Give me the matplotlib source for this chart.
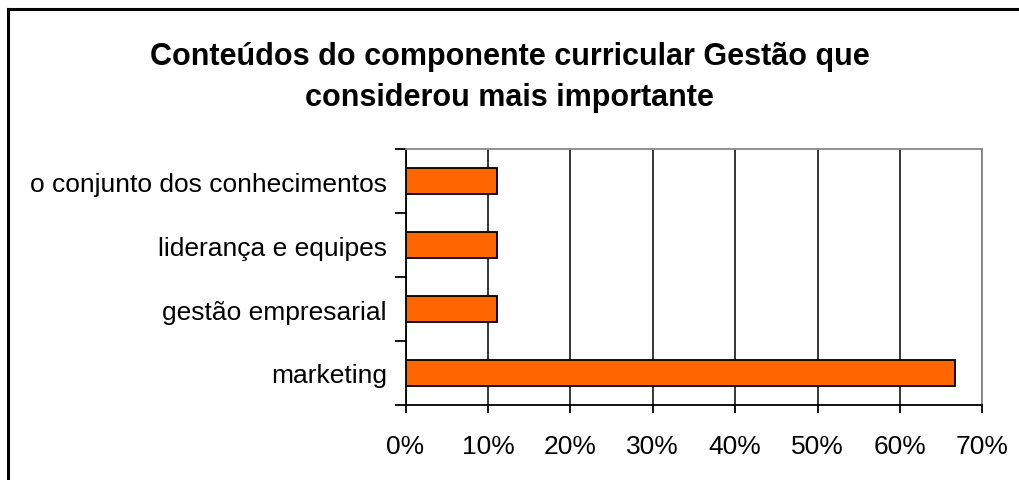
import matplotlib.pyplot as plt
import matplotlib
from matplotlib.lines import Line2D
from matplotlib.ticker import FixedLocator, PercentFormatter

matplotlib.rcParams['font.family'] = ['Liberation Sans', 'DejaVu Sans']

# dados
categorias = ['marketing', 'gestão empresarial', 'liderança e equipes',
              'o conjunto dos conhecimentos']
percentuais = [66.7, 11.1, 11.1, 11.1]
ticks_x = [0, 10, 20, 30, 40, 50, 60, 70]

fig = plt.figure(figsize=(10.19, 4.81), dpi=100)
ax = fig.add_axes([0.398, 0.156, 0.566, 0.532])

# barras horizontais
ax.barh(range(len(categorias)), percentuais, height=0.4, color='#FF6600',
        edgecolor='black', linewidth=1.3, zorder=3)

ax.set_xlim(0, 70)
ax.set_ylim(-0.5, len(categorias) - 0.5)
ax.set_xticks(ticks_x)
ax.xaxis.set_major_formatter(PercentFormatter(decimals=0))
ax.set_yticks(range(len(categorias)))
ax.set_yticklabels(categorias)
ax.yaxis.set_minor_locator(FixedLocator([i - 0.5 for i in range(len(categorias) + 1)]))

ax.tick_params(axis='y', which='major', length=0, pad=13.5, labelsize=19)
ax.tick_params(axis='y', which='minor', length=8, width=1.3, direction='out')
ax.tick_params(axis='x', length=6, width=1.3, direction='out', pad=15, labelsize=19)

# linhas de grade verticais
ax.grid(axis='x', color='black', linewidth=1.1, zorder=0)
ax.set_axisbelow(True)

for lado in ['left', 'bottom']:
    ax.spines[lado].set_linewidth(1.3)
for lado in ['top', 'right']:
    ax.spines[lado].set_color('#888888')
    ax.spines[lado].set_linewidth(1.3)

fig.text(0.5, 0.838, 'Conteúdos do componente curricular Gestão que\nconsiderou mais importante',
         ha='center', va='center', fontsize=22, fontweight='bold', linespacing=1.48)

# moldura do gráfico
fig.add_artist(Line2D([8 / 1019, 8 / 1019], [0, 1 - 10 / 481], color='black', linewidth=2.2))
fig.add_artist(Line2D([8 / 1019, 1], [1 - 10 / 481, 1 - 10 / 481], color='black', linewidth=2.2))

fig.savefig('out.png', dpi=100)
